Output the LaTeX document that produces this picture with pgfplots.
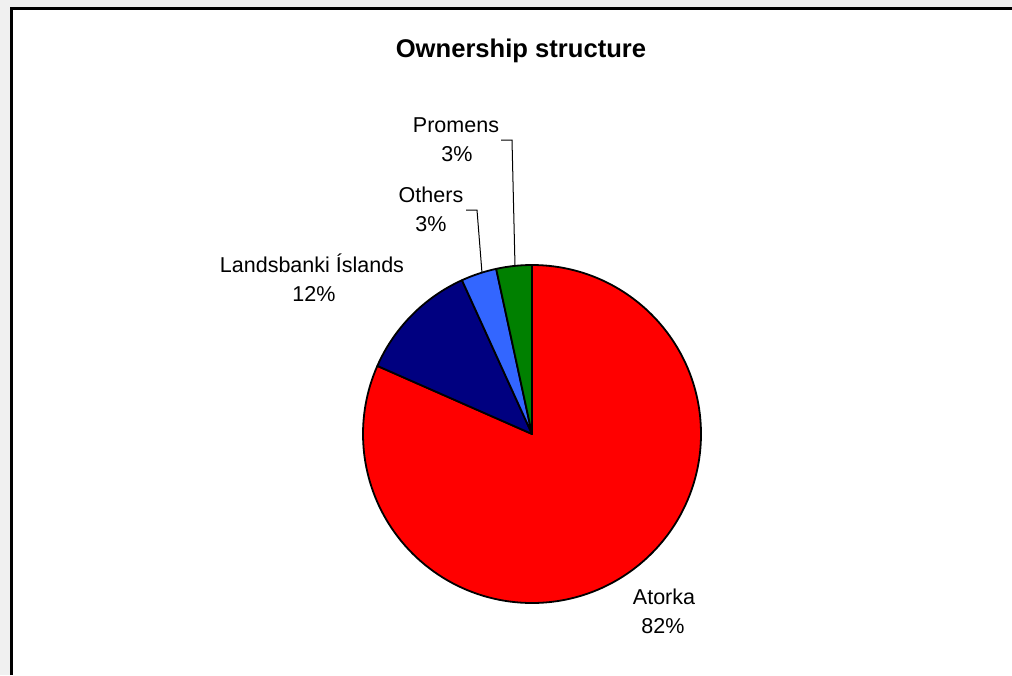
\documentclass[border=0pt]{standalone}
\usepackage{fontspec}
\setmainfont{Liberation Sans}
\usepackage{pgfplots}
\usepackage{pgfplotstable}
\pgfplotsset{compat=1.18}
\definecolor{bg}{RGB}{240,240,240}
\definecolor{cAtorka}{RGB}{255,0,0}
\definecolor{cLands}{RGB}{0,0,128}
\definecolor{cOthers}{RGB}{51,102,255}
\definecolor{cPromens}{RGB}{0,128,0}
\pgfplotstableread{
name value
Atorka 81.6
Landsbanki 11.6
Others 3.4
Promens 3.4
}\piedata
\begin{document}
\begin{tikzpicture}
\pgfplotstablegetelem{0}{value}\of\piedata \let\vA\pgfplotsretval
\pgfplotstablegetelem{1}{value}\of\piedata \let\vB\pgfplotsretval
\pgfplotstablegetelem{2}{value}\of\piedata \let\vC\pgfplotsretval
\pgfplotstablegetelem{3}{value}\of\piedata \let\vD\pgfplotsretval
\pgfmathsetmacro\aO{90}
\pgfmathsetmacro\aA{\aO-3.6*\vA}
\pgfmathsetmacro\aB{\aA-3.6*\vB}
\pgfmathsetmacro\aC{\aB-3.6*\vC}
\pgfmathsetmacro\aD{\aC-3.6*\vD}
\def\R{169pt}
\begin{axis}[
  scale only axis, width=1012pt, height=675pt,
  xmin=0, xmax=1012, ymin=0, ymax=675, y dir=reverse,
  hide axis, clip=false,
]
\fill[bg] (axis cs:0,0) rectangle (axis cs:1012,675);
\fill[white] (axis cs:11.5,8) rectangle (axis cs:1012,675);
\draw[black, line width=3pt] (axis cs:11.5,675) -- (axis cs:11.5,8) -- (axis cs:1012,8);
% pie wedges
\filldraw[fill=cAtorka, draw=black, line width=1.8pt, line join=round] (axis cs:532,434) -- ++(\aO:\R) arc[start angle=\aO, end angle=\aA, radius=\R] -- cycle;
\filldraw[fill=cLands, draw=black, line width=1.8pt, line join=round] (axis cs:532,434) -- ++(\aA:\R) arc[start angle=\aA, end angle=\aB, radius=\R] -- cycle;
\filldraw[fill=cOthers, draw=black, line width=1.8pt, line join=round] (axis cs:532,434) -- ++(\aB:\R) arc[start angle=\aB, end angle=\aC, radius=\R] -- cycle;
\filldraw[fill=cPromens, draw=black, line width=1.8pt, line join=round] (axis cs:532,434) -- ++(\aC:\R) arc[start angle=\aC, end angle=\aD, radius=\R] -- cycle;
% leader lines
\draw[black, line width=1pt] (axis cs:501,140) -- (axis cs:512,140) -- (axis cs:515,266);
\draw[black, line width=1pt] (axis cs:466,210) -- (axis cs:477,210) -- (axis cs:482,273);
% title
\node[anchor=base, font=\fontsize{25.6}{30}\selectfont\bfseries] at (axis cs:521,57) {Ownership structure};
% labels
\node[anchor=base, font=\fontsize{21.5}{26}\selectfont] at (axis cs:456,132) {Promens};
\node[anchor=base, font=\fontsize{21.5}{26}\selectfont] at (axis cs:457,161) {3\%};
\node[anchor=base, font=\fontsize{21.5}{26}\selectfont] at (axis cs:431,202) {Others};
\node[anchor=base, font=\fontsize{21.5}{26}\selectfont] at (axis cs:431,231) {3\%};
\node[anchor=base, font=\fontsize{21.5}{26}\selectfont] at (axis cs:312,272) {Landsbanki Íslands};
\node[anchor=base, font=\fontsize{21.5}{26}\selectfont] at (axis cs:314,301) {12\%};
\node[anchor=base, font=\fontsize{21.5}{26}\selectfont] at (axis cs:664,604) {Atorka};
\node[anchor=base, font=\fontsize{21.5}{26}\selectfont] at (axis cs:663,633) {82\%};
\end{axis}
\pgfresetboundingbox
\useasboundingbox (current axis.south west) rectangle (current axis.north east);
\end{tikzpicture}
\end{document}
